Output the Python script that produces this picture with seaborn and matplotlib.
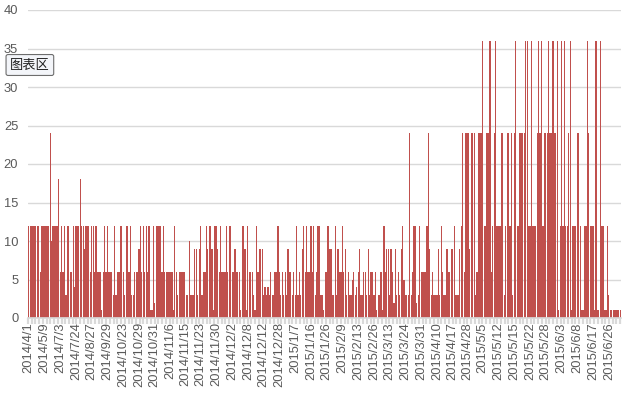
import numpy as np
import pandas as pd
import matplotlib
matplotlib.use("Agg")
import matplotlib.pyplot as plt
import seaborn as sns

# values, left to right, in seven stretches
counts_a = [12, 12, 12, 12, 12, 12, 12, 12, 6, 12, 12, 12, 12, 12, 12, 24, 10, 12, 12, 12,
            12, 18, 6, 12, 6, 12, 3, 12, 12, 6, 6, 12, 4, 12, 12, 12, 18, 12, 12, 9,
            12, 12, 12, 6, 12, 12, 6, 12, 6, 6]
counts_b = [6, 1, 6, 12, 6, 12, 6, 6, 6, 3, 12, 3, 6, 6, 12, 12, 6, 3, 12, 12,
            6, 12, 3, 3, 6, 6, 6, 9, 12, 6, 12, 6, 12, 6, 12, 1, 1, 12, 2, 12,
            12, 12, 12, 6, 12, 6, 6, 6, 6, 6, 6, 1, 12, 6]
counts_c = [3, 6, 6, 6, 6, 6, 3, 3, 10, 3, 3, 3, 9, 9, 3, 9, 12, 3, 6, 6,
            12, 9, 12, 12, 9, 1, 12, 12, 9, 6, 12, 6, 6, 6, 12, 6, 12, 12, 6, 6,
            9, 6, 6, 6, 1, 12, 12, 9, 1, 12, 6, 6, 6, 3, 1, 12, 6, 9, 9, 9, 3, 4]
counts_d = [3, 4, 3, 6, 3, 3, 6, 6, 12, 6, 3, 6, 3, 6, 3, 9, 6, 6, 3, 6,
            3, 12, 3, 6, 3, 9, 12, 6, 12, 6, 6, 12, 6, 12, 3, 6, 12, 12, 3, 3,
            1, 6, 6, 12, 9, 9, 3, 3, 12, 3, 9, 6, 6, 12, 6, 9, 3, 6, 3, 3,
            5, 6, 3, 4, 6, 9, 3]
counts_e = [3, 6, 6, 3, 9, 3, 6, 6, 3, 6, 1, 3, 3, 6, 1, 12, 6, 9, 9, 3,
            9, 6, 2, 9, 3, 6, 3, 9, 12, 5, 3, 3, 3, 24, 3, 6, 12, 12, 2, 3,
            12, 6, 6, 6, 6, 12, 24, 9, 3, 6, 3, 3, 3, 9, 3, 12, 6, 3, 3, 9, 6]
counts_f = [6, 9, 9, 12, 3, 3, 3, 9, 12, 24, 6, 24, 24, 24, 9, 24, 24, 24, 3, 6,
            24, 24, 24, 36, 12, 12, 24, 24, 36, 6, 12, 24, 36, 12, 12, 12, 24, 24, 3, 12,
            24, 24, 12, 24, 3, 24, 36, 12, 12, 24, 24, 24, 24, 36, 36, 12, 12, 36, 12]
counts_g = [12, 12, 24, 36, 24, 36, 12, 24, 24, 24, 36, 24, 24, 36, 24, 24, 36, 1, 12, 36,
            12, 36, 12, 12, 24, 36, 1, 12, 12, 12, 24, 24, 12, 1, 1, 12, 12, 36, 24, 12,
            12, 12, 1, 36, 1, 1, 36, 12, 12, 1, 1, 12, 3, 1, 1, 1, 1, 1, 1, 1, 1]

date_labels = ["2014/4/1", "2014/5/9", "2014/7/3", "2014/7/24", "2014/8/27", "2014/9/29",
               "2014/10/23", "2014/10/29", "2014/10/31", "2014/11/6", "2014/11/15",
               "2014/11/23", "2014/11/30", "2014/12/2", "2014/12/8", "2014/12/12",
               "2014/12/28", "2015/1/7", "2015/1/16", "2015/1/26", "2015/2/9",
               "2015/2/13", "2015/2/26", "2015/3/13", "2015/3/24", "2015/3/31",
               "2015/4/10", "2015/4/17", "2015/4/28", "2015/5/5", "2015/5/12",
               "2015/5/15", "2015/5/22", "2015/5/28", "2015/6/3", "2015/6/8",
               "2015/6/17", "2015/6/26"]

values = counts_a + counts_b + counts_c + counts_d + counts_e + counts_f + counts_g
n = len(values)
df = pd.DataFrame({"idx": np.arange(n), "value": values})

sns.set_theme(style="white")
plt.rcParams["font.family"] = ["Liberation Sans", "DejaVu Sans"]

fig = plt.figure(figsize=(6.33, 3.94), dpi=100)
ax = fig.add_axes([28 / 633, 1 - 318 / 394, 593 / 633, 308 / 394])

sns.barplot(data=df, x="idx", y="value", color="#C0504D", width=0.85,
            saturation=1, linewidth=0, ax=ax, zorder=2)

ax.set_ylim(0, 40)
ax.set_yticks(np.arange(0, 41, 5))
ax.set_xlim(-0.5, n - 0.5)
ax.yaxis.grid(True, color="#d9d9d9", linewidth=1, zorder=0)
ax.set_xlabel("")
ax.set_ylabel("")

for side in ["top", "right", "left"]:
    ax.spines[side].set_visible(False)
ax.spines["bottom"].set_color("#d9d9d9")

step = (n - 9) / 37
label_pos = [round(i * step) for i in range(len(date_labels))]
ax.set_xticks(label_pos)
ax.set_xticklabels(date_labels, rotation=90, fontsize=9.3, color="#595959")
ax.set_xticks(np.arange(0, n, 2.6) - 0.5, minor=True)
ax.tick_params(axis="x", which="major", length=0, pad=3)
ax.tick_params(axis="x", which="minor", length=4, width=1.6, color="#d9d9d9",
               direction="out", bottom=True)
ax.tick_params(axis="y", length=0, pad=7, labelsize=9.3, labelcolor="#595959")

# Excel hover tip
fig.text(10 / 633, 1 - 65 / 394, "图表区", fontsize=9.5, va="center", ha="left",
         family=["Noto Sans CJK SC", "DejaVu Sans"], color="#222222",
         bbox=dict(boxstyle="round,pad=0.3,rounding_size=0.15",
                   facecolor="#f3f5f9", edgecolor="#6d6d6d", linewidth=0.8))

fig.savefig("out.png", dpi=100)
